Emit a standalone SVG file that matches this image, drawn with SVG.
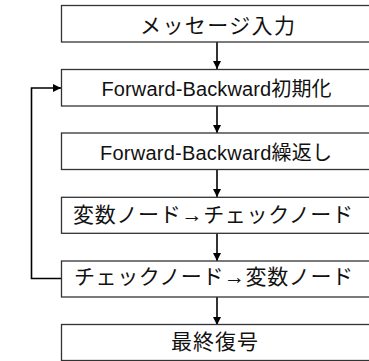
<svg xmlns="http://www.w3.org/2000/svg" width="369" height="361" viewBox="0 0 369 361">
<style>
.box{fill:#fff;stroke:#333;stroke-width:1.3}
.t{font-family:"Liberation Sans","Noto Sans CJK JP",sans-serif;fill:#111}
.l{font-size:20px}
.j{font-size:21px}
.c{fill:none;stroke:#000;stroke-width:1.6}
</style>
<defs>
<marker id="ah" markerWidth="8" markerHeight="8" refX="8" refY="4" orient="auto" markerUnits="userSpaceOnUse">
<path d="M0,0 L8,4 L0,8 Z" fill="#000"/>
</marker>
</defs>
<g id="connectors">
<line class="c" x1="217" y1="42" x2="217" y2="69" marker-end="url(#ah)"/>
<line class="c" x1="217" y1="106" x2="217" y2="133" marker-end="url(#ah)"/>
<line class="c" x1="217" y1="169" x2="217" y2="197" marker-end="url(#ah)"/>
<line class="c" x1="217" y1="233" x2="217" y2="261" marker-end="url(#ah)"/>
<line class="c" x1="217" y1="297" x2="217" y2="325" marker-end="url(#ah)"/>
<polyline class="c" points="61,278.5 31.5,278.5 31.5,88 61,88" marker-end="url(#ah)"/>
</g>
<g id="n1">
<rect class="box" x="61.5" y="5.5" width="313" height="36.5"/>
<text class="t j" x="140" y="33" textLength="155" lengthAdjust="spacing">メッセージ入力</text>
</g>
<g id="n2">
<rect class="box" x="61.5" y="69.5" width="313" height="36.5"/>
<text class="t l" x="101.5" y="96" textLength="230" lengthAdjust="spacing">Forward-Backward初期化</text>
</g>
<g id="n3">
<rect class="box" x="61.5" y="133" width="313" height="36.5"/>
<text class="t l" x="100" y="160" textLength="232" lengthAdjust="spacing">Forward-Backward繰返し</text>
</g>
<g id="n4">
<rect class="box" x="61.5" y="197.3" width="313" height="36"/>
<text class="t j" x="73" y="222" textLength="280" lengthAdjust="spacing">変数ノード→チェックノード</text>
</g>
<g id="n5">
<rect class="box" x="61.5" y="261" width="313" height="36"/>
<text class="t j" x="74" y="284" textLength="279" lengthAdjust="spacing">チェックノード→変数ノード</text>
</g>
<g id="n6">
<rect class="box" x="61.5" y="324.5" width="313" height="36"/>
<text class="t j" x="171" y="349" textLength="87" lengthAdjust="spacing">最終復号</text>
</g>
</svg>
